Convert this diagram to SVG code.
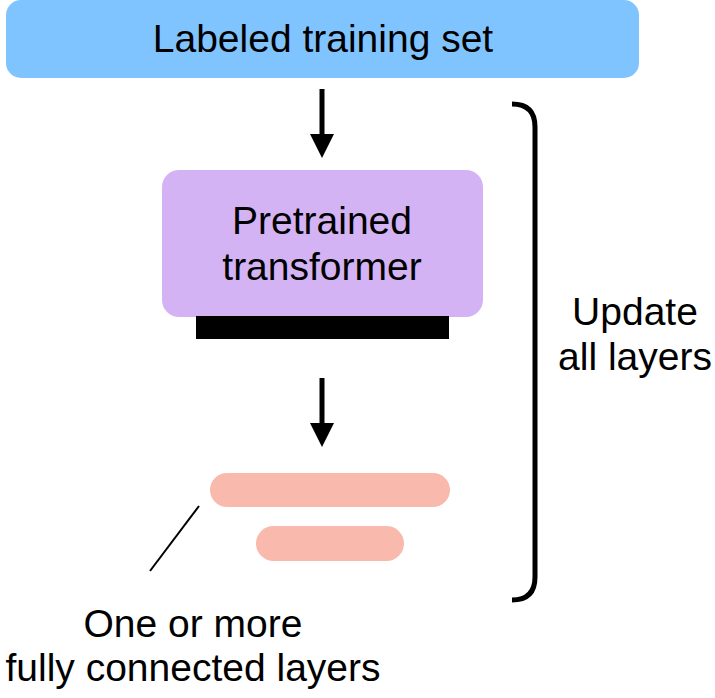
<svg xmlns="http://www.w3.org/2000/svg" width="715" height="698" viewBox="0 0 715 698">
<style>
text{font-family:"Liberation Sans",Arial,Helvetica,sans-serif;font-size:39px;fill:#000;text-anchor:middle}
.conn{stroke:#000;fill:none}
</style>
<defs>
<marker id="ah" markerWidth="24" markerHeight="24" refX="0" refY="12" markerUnits="userSpaceOnUse" orient="auto" viewBox="0 0 24 24">
<path d="M0,0 L24,12 L0,24 Z" fill="#000"/>
</marker>
</defs>
<rect width="715" height="698" fill="#fff"/>
<g id="training-set">
<rect x="6" y="0" width="633" height="78" rx="15" fill="#80C4FF"/>
<text x="323" y="52">Labeled training set</text>
</g>
<g id="transformer">
<rect x="162" y="170" width="321" height="147" rx="17" fill="#D4B3F5"/>
<rect x="196" y="316" width="253" height="23" fill="#000"/>
<text x="322" y="234">Pretrained</text>
<text x="322" y="280">transformer</text>
</g>
<g id="fc-layers">
<rect x="210" y="473" width="240" height="34" rx="17" fill="#F9B9AC"/>
<rect x="256" y="526" width="148" height="35" rx="17.5" fill="#F9B9AC"/>
</g>
<g id="fc-label">
<text x="193" y="637">One or more</text>
<text x="193" y="681">fully connected layers</text>
</g>
<g id="update-label">
<text x="635" y="325">Update</text>
<text x="635" y="370">all layers</text>
</g>
<g id="connectors">
<line class="conn" x1="322" y1="89" x2="322" y2="134" stroke-width="5" marker-end="url(#ah)"/>
<line class="conn" x1="322" y1="378" x2="322" y2="423" stroke-width="5" marker-end="url(#ah)"/>
<line class="conn" x1="199" y1="506" x2="150" y2="571" stroke-width="2"/>
<path class="conn" d="M512,104 Q535,104 535,127 L535,577 Q535,600 512,600" stroke-width="5"/>
</g>
</svg>
